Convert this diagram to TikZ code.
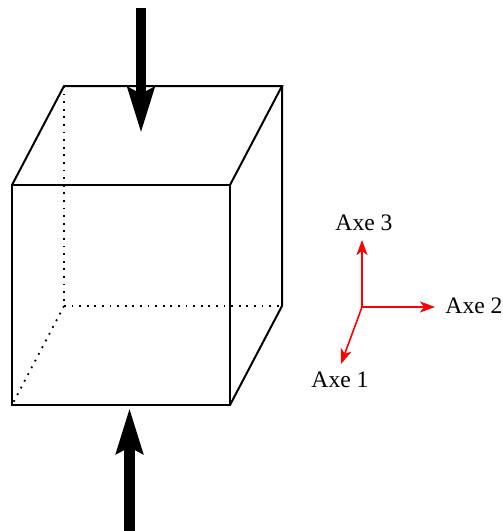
\documentclass[tikz,border=0pt]{standalone}
\usepackage{fontspec}
\setmainfont{Liberation Serif}
\usepackage{xcolor}
\usetikzlibrary{arrows.meta}

\begin{document}
\begin{tikzpicture}[x=1pt,y=-1pt]
\tikzstyle{edge}=[draw,line width=2pt,line cap=round,line join=miter]
\tikzstyle{hidden}=[draw,line width=1.8pt,dash pattern=on 1.8pt off 5.8pt]
\tikzstyle{load}=[draw,line width=10.5pt,-{Stealth[length=45pt,width=26pt,inset=6pt]}]
\tikzstyle{axis}=[draw,red,line width=1.6pt,-{Stealth[length=15pt,width=11pt,inset=4pt]}]
\tikzstyle{axislabel}=[inner sep=0pt,font=\fontsize{23.6}{26}\selectfont]
\useasboundingbox (0,0) rectangle (503,531);

% Front face
\coordinate (f1) at (12,185);
\coordinate (f2) at (230,185);
\coordinate (f3) at (230,405);
\coordinate (f4) at (12,405);
% Back face
\coordinate (b1) at (64,86);
\coordinate (b2) at (282,86);
\coordinate (b3) at (282,306);
\coordinate (b4) at (64,306);

\draw[hidden] (b1) -- (b4);
\draw[hidden] (b4) -- (b3);
\draw[hidden] (b4) -- (f4);

\draw[edge] (f1) -- (f2) -- (f3) -- (f4) -- cycle;
\draw[edge] (f1) -- (b1) -- (b2) -- (f2);
\draw[edge] (b2) -- (b3) -- (f3);

% Loads
\coordinate (t0) at (141,8);
\coordinate (t1) at (141,133);
\coordinate (u0) at (129.5,531);
\coordinate (u1) at (129.5,408);
\draw[load] (t0) -- (t1);
\draw[load] (u0) -- (u1);

% Axes
\coordinate (o) at (362,307);
\coordinate (a1) at (341,364);
\coordinate (a2) at (435,307);
\coordinate (a3) at (362,240);
\draw[axis] (o) -- (a1);
\draw[axis] (o) -- (a2);
\draw[axis] (o) -- (a3);

\node[axislabel] (l1) at (340,380) {Axe 1};
\node[axislabel] (l2) at (474,306) {Axe 2};
\node[axislabel] (l3) at (364,223) {Axe 3};

\end{tikzpicture}
\end{document}
